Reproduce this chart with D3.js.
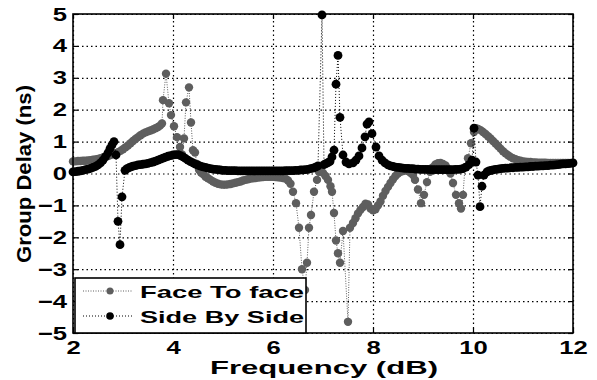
<!DOCTYPE html>
<html>
<head>
<meta charset="utf-8">
<script src="https://cdn.jsdelivr.net/npm/d3@7"></script>
<style>
  body { margin: 0; background: #fff; }
  text { font-family: Arial, "Liberation Sans", sans-serif; font-weight: bold; }
</style>
</head>
<body>
<svg id="chart" width="597" height="380"></svg>
<script>
// [frequency, group delay]
var faceToFace = [
  [2.00,0.38],[2.05,0.38],[2.10,0.39],[2.15,0.39],[2.20,0.40],[2.25,0.40],[2.30,0.41],[2.35,0.42],
  [2.40,0.43],[2.45,0.44],[2.50,0.46],[2.55,0.48],[2.60,0.50],[2.65,0.52],[2.70,0.55],[2.75,0.58],
  [2.80,0.61],[2.85,0.64],[2.90,0.67],[2.95,0.71],[3.00,0.76],[3.05,0.82],[3.10,0.88],[3.15,0.95],
  [3.20,1.02],[3.25,1.08],[3.30,1.14],[3.35,1.20],[3.40,1.25],[3.45,1.29],[3.50,1.32],[3.55,1.35],
  [3.60,1.38],[3.65,1.42],[3.70,1.46],[3.74,1.50],[3.78,1.57],[3.80,2.30],[3.86,3.13],[3.92,2.20],
  [3.96,1.83],[4.02,1.48],[4.08,1.14],[4.14,0.83],[4.18,0.60],[4.22,1.10],[4.26,2.23],[4.32,2.70],
  [4.36,1.60],[4.40,0.73],[4.44,0.66],[4.48,0.30],[4.52,0.12],[4.56,0.03],[4.60,-0.02],[4.65,-0.10],
  [4.70,-0.15],[4.75,-0.20],[4.80,-0.25],[4.85,-0.29],[4.90,-0.32],[4.95,-0.34],[5.00,-0.35],[5.05,-0.35],
  [5.10,-0.34],[5.15,-0.33],[5.20,-0.31],[5.25,-0.29],[5.30,-0.27],[5.35,-0.25],[5.40,-0.22],[5.45,-0.20],
  [5.50,-0.18],[5.55,-0.16],[5.60,-0.15],[5.65,-0.14],[5.70,-0.13],[5.75,-0.12],[5.80,-0.11],[5.85,-0.10],
  [5.90,-0.10],[5.95,-0.10],[6.00,-0.10],[6.05,-0.11],[6.10,-0.12],[6.15,-0.13],[6.20,-0.14],[6.25,-0.16],
  [6.30,-0.22],[6.35,-0.32],[6.40,-0.57],[6.46,-0.93],[6.52,-1.70],[6.58,-3.00],[6.64,-3.65],[6.68,-2.80],
  [6.72,-1.70],[6.76,-1.30],[6.82,-0.57],[6.88,-0.20],[6.92,0.05],[6.96,0.10],[7.00,0.02],[7.05,-0.08],
  [7.10,-0.20],[7.15,-0.40],[7.18,-0.57],[7.22,-1.24],[7.26,-2.10],[7.30,-2.50],[7.34,-2.80],[7.40,-1.80],
  [7.50,-4.65],[7.54,-1.70],[7.60,-1.55],[7.65,-1.40],[7.70,-1.25],[7.75,-1.14],[7.80,-1.05],[7.85,-0.95],
  [7.90,-0.97],[7.95,-1.10],[8.00,-1.15],[8.05,-1.12],[8.10,-1.00],[8.15,-0.88],[8.20,-0.70],[8.25,-0.55],
  [8.30,-0.42],[8.35,-0.30],[8.40,-0.18],[8.45,-0.08],[8.50,0.00],[8.55,0.05],[8.60,0.08],[8.65,0.10],
  [8.70,0.08],[8.75,0.02],[8.80,-0.05],[8.84,-0.20],[8.90,-0.50],[8.96,-0.93],[9.02,-0.67],[9.08,-0.27],
  [9.14,0.05],[9.20,0.20],[9.25,0.28],[9.30,0.32],[9.35,0.33],[9.40,0.30],[9.45,0.25],[9.50,0.15],
  [9.55,0.00],[9.60,-0.30],[9.66,-0.67],[9.72,-0.93],[9.76,-1.10],[9.80,-0.67],[9.84,0.20],[9.90,0.48],
  [9.96,0.95],[10.02,1.30],[10.06,1.42],[10.10,1.40],[10.15,1.36],[10.20,1.30],[10.25,1.24],[10.30,1.17],
  [10.35,1.10],[10.40,1.02],[10.45,0.94],[10.50,0.86],[10.55,0.78],[10.60,0.70],[10.65,0.63],[10.70,0.57],
  [10.75,0.52],[10.80,0.48],[10.85,0.45],[10.90,0.42],[10.95,0.40],[11.00,0.38],[11.05,0.37],[11.10,0.36],
  [11.15,0.36],[11.20,0.35],[11.25,0.35],[11.30,0.34],[11.35,0.34],[11.40,0.34],[11.45,0.34],[11.50,0.33],
  [11.55,0.33],[11.60,0.33],[11.65,0.33],[11.70,0.33],[11.75,0.33],[11.80,0.33],[11.85,0.33],[11.90,0.33],
  [11.95,0.33],[12.00,0.33]
];

var sideBySide = [
  [2.00,0.05],[2.05,0.06],[2.10,0.07],[2.15,0.08],[2.20,0.10],[2.25,0.12],[2.30,0.14],[2.35,0.16],
  [2.40,0.19],[2.45,0.22],[2.50,0.27],[2.55,0.33],[2.60,0.42],[2.65,0.53],[2.70,0.65],[2.74,0.78],
  [2.78,0.90],[2.82,1.00],[2.86,0.58],[2.90,-1.50],[2.94,-2.23],[2.98,-0.73],[3.04,0.10],[3.08,0.15],
  [3.12,0.18],[3.16,0.21],[3.20,0.23],[3.25,0.25],[3.30,0.27],[3.35,0.28],[3.40,0.29],[3.45,0.30],
  [3.50,0.32],[3.55,0.34],[3.60,0.36],[3.65,0.39],[3.70,0.42],[3.75,0.45],[3.80,0.48],[3.85,0.51],
  [3.90,0.54],[3.95,0.56],[4.00,0.58],[4.05,0.59],[4.10,0.59],[4.15,0.56],[4.20,0.52],[4.25,0.47],
  [4.30,0.42],[4.35,0.37],[4.40,0.33],[4.45,0.29],[4.50,0.26],[4.55,0.23],[4.60,0.21],[4.65,0.19],
  [4.70,0.17],[4.75,0.15],[4.80,0.14],[4.85,0.13],[4.90,0.12],[4.95,0.11],[5.00,0.10],[5.05,0.10],
  [5.10,0.09],[5.15,0.09],[5.20,0.09],[5.25,0.09],[5.30,0.08],[5.35,0.08],[5.40,0.08],[5.45,0.08],
  [5.50,0.08],[5.55,0.08],[5.60,0.08],[5.65,0.08],[5.70,0.08],[5.75,0.08],[5.80,0.08],[5.85,0.08],
  [5.90,0.08],[5.95,0.08],[6.00,0.08],[6.05,0.08],[6.10,0.08],[6.15,0.08],[6.20,0.08],[6.25,0.09],
  [6.30,0.09],[6.35,0.09],[6.40,0.09],[6.45,0.10],[6.50,0.10],[6.55,0.11],[6.60,0.11],[6.65,0.12],
  [6.70,0.13],[6.75,0.15],[6.80,0.17],[6.85,0.20],[6.90,0.24],[6.98,4.97],[7.02,0.28],[7.06,0.31],
  [7.10,0.34],[7.14,0.38],[7.18,0.52],[7.22,0.73],[7.26,2.80],[7.30,3.70],[7.34,1.76],[7.40,0.58],
  [7.46,0.36],[7.52,0.30],[7.60,0.33],[7.66,0.42],[7.72,0.55],[7.78,0.80],[7.84,1.15],[7.88,1.55],
  [7.92,1.62],[7.98,1.25],[8.06,0.83],[8.12,0.55],[8.18,0.42],[8.24,0.33],[8.30,0.27],[8.35,0.24],
  [8.40,0.22],[8.45,0.20],[8.50,0.19],[8.55,0.18],[8.60,0.17],[8.65,0.16],[8.70,0.16],[8.75,0.15],
  [8.80,0.15],[8.85,0.14],[8.90,0.14],[8.95,0.13],[9.00,0.13],[9.05,0.13],[9.10,0.13],[9.15,0.12],
  [9.20,0.12],[9.25,0.12],[9.30,0.12],[9.35,0.12],[9.40,0.12],[9.45,0.12],[9.50,0.12],[9.55,0.12],
  [9.60,0.12],[9.65,0.13],[9.70,0.13],[9.75,0.14],[9.80,0.15],[9.86,0.20],[9.92,0.28],[9.98,0.42],
  [10.02,1.42],[10.06,0.36],[10.10,-0.05],[10.14,-1.04],[10.18,-0.40],[10.22,-0.05],[10.28,0.05],[10.32,0.08],
  [10.36,0.10],[10.40,0.11],[10.45,0.13],[10.50,0.14],[10.55,0.15],[10.60,0.16],[10.65,0.17],[10.70,0.17],
  [10.75,0.18],[10.80,0.18],[10.85,0.19],[10.90,0.19],[10.95,0.20],[11.00,0.20],[11.05,0.21],[11.10,0.21],
  [11.15,0.22],[11.20,0.22],[11.25,0.23],[11.30,0.23],[11.35,0.24],[11.40,0.24],[11.45,0.25],[11.50,0.25],
  [11.55,0.26],[11.60,0.26],[11.65,0.27],[11.70,0.28],[11.75,0.29],[11.80,0.30],[11.85,0.30],[11.90,0.31],
  [11.95,0.32],[12.00,0.33]
];

var seriesNames = ["Face To face", "Side By Side"];
var xTicks = [2, 4, 6, 8, 10, 12];
var yTicks = [-5, -4, -3, -2, -1, 0, 1, 2, 3, 4, 5];

var svg = d3.select("#chart"),
  margin = { top: 14, right: 24, bottom: 47, left: 73 },
  width = +svg.attr("width") - margin.left - margin.right,
  height = +svg.attr("height") - margin.top - margin.bottom;

svg.append("rect").attr("width", 597).attr("height", 380).attr("fill", "#fff");

var x = d3.scaleLinear().domain([2, 12]).range([margin.left, margin.left + width]);
var y = d3.scaleLinear().domain([-5, 5]).range([margin.top + height, margin.top]);

var colors = { face: "#5e5e5e", side: "#000" };

// stretch text horizontally, the figure looks widened
function stretch(sel, k) {
  sel.each(function () {
    var w = this.getComputedTextLength();
    d3.select(this).attr("textLength", w * k).attr("lengthAdjust", "spacingAndGlyphs");
  });
}

// grid
svg.append("g")
  .attr("class", "grid")
  .attr("transform", "translate(0," + (margin.top + height) + ")")
  .call(d3.axisBottom(x).tickValues(xTicks).tickSize(-height).tickFormat(""))
  .call(g => g.select(".domain").remove());
svg.append("g")
  .attr("class", "grid")
  .attr("transform", "translate(" + margin.left + ",0)")
  .call(d3.axisLeft(y).tickValues(yTicks).tickSize(-width).tickFormat(""))
  .call(g => g.select(".domain").remove());
svg.selectAll(".grid line")
  .attr("stroke", "#555")
  .attr("stroke-width", 1)
  .attr("stroke-dasharray", "1.5,3");

// series
var line = d3.line()
  .x(d => x(d[0]))
  .y(d => y(d[1]));

function drawSeries(data, color, r, dash) {
  var g = svg.append("g");
  g.append("path")
    .datum(data)
    .attr("fill", "none")
    .attr("stroke", color)
    .attr("stroke-width", 1)
    .attr("stroke-dasharray", dash)
    .attr("d", line);
  g.selectAll("circle")
    .data(data)
    .enter().append("circle")
    .attr("cx", d => x(d[0]))
    .attr("cy", d => y(d[1]))
    .attr("r", r)
    .attr("fill", color);
}
drawSeries(faceToFace, colors.face, 4.2, "1,1.5");
drawSeries(sideBySide, colors.side, 4.4, "1,2");

// axes
var xAxis = svg.append("g")
  .attr("transform", "translate(0," + (margin.top + height) + ")")
  .call(d3.axisBottom(x).tickValues(xTicks).tickSizeInner(-5).tickSizeOuter(0).tickPadding(8));
var yAxis = svg.append("g")
  .attr("transform", "translate(" + margin.left + ",0)")
  .call(d3.axisLeft(y).tickValues(yTicks).tickSizeInner(-5).tickSizeOuter(0).tickPadding(6));
svg.append("g")
  .attr("transform", "translate(0," + margin.top + ")")
  .call(d3.axisTop(x).tickValues(xTicks).tickSizeInner(-5).tickSizeOuter(0).tickFormat(""));
svg.append("g")
  .attr("transform", "translate(" + (margin.left + width) + ",0)")
  .call(d3.axisRight(y).tickValues(yTicks).tickSizeInner(-5).tickSizeOuter(0).tickFormat(""));

svg.selectAll(".domain").remove();
svg.selectAll(".tick line").attr("stroke", "#000").attr("stroke-width", 1.2);
svg.selectAll(".tick text")
  .attr("font-size", 19)
  .attr("font-family", "Arial, 'Liberation Sans', sans-serif")
  .attr("font-weight", "bold")
  .attr("fill", "#000");
stretch(xAxis.selectAll(".tick text"), 1.35);
stretch(yAxis.selectAll(".tick text"), 1.35);

// frame
svg.append("rect")
  .attr("x", margin.left)
  .attr("y", margin.top)
  .attr("width", width)
  .attr("height", height)
  .attr("fill", "none")
  .attr("stroke", "#000")
  .attr("stroke-width", 1.6);

// axis titles
svg.append("text")
  .attr("x", 324)
  .attr("y", 374)
  .attr("text-anchor", "middle")
  .attr("font-size", 19)
  .attr("textLength", 228)
  .attr("lengthAdjust", "spacingAndGlyphs")
  .text("Frequency (dB)");

svg.append("text")
  .attr("transform", "translate(31,174) rotate(-90)")
  .attr("text-anchor", "middle")
  .attr("font-size", 20)
  .attr("textLength", 178)
  .attr("lengthAdjust", "spacingAndGlyphs")
  .text("Group Delay (ns)");

// legend
var legend = svg.append("g");
legend.append("rect")
  .attr("x", 75).attr("y", 278)
  .attr("width", 231).attr("height", 55)
  .attr("fill", "#fff")
  .attr("stroke", "#000")
  .attr("stroke-width", 1.6);

var legendItems = [
  { name: seriesNames[0], color: colors.face, dash: "1,1.5", r: 3.5, cy: 291 },
  { name: seriesNames[1], color: colors.side, dash: "1,2", r: 3.8, cy: 316 }
];
legendItems.forEach(function (d) {
  legend.append("line")
    .attr("x1", 83).attr("x2", 133)
    .attr("y1", d.cy).attr("y2", d.cy)
    .attr("stroke", d.color)
    .attr("stroke-dasharray", d.dash);
  legend.append("circle")
    .attr("cx", 110).attr("cy", d.cy).attr("r", d.r)
    .attr("fill", d.color);
  legend.append("text")
    .attr("x", 140).attr("y", d.cy + 7)
    .attr("font-size", 17)
    .attr("textLength", 164)
    .attr("lengthAdjust", "spacingAndGlyphs")
    .text(d.name);
});
</script>
</body>
</html>
